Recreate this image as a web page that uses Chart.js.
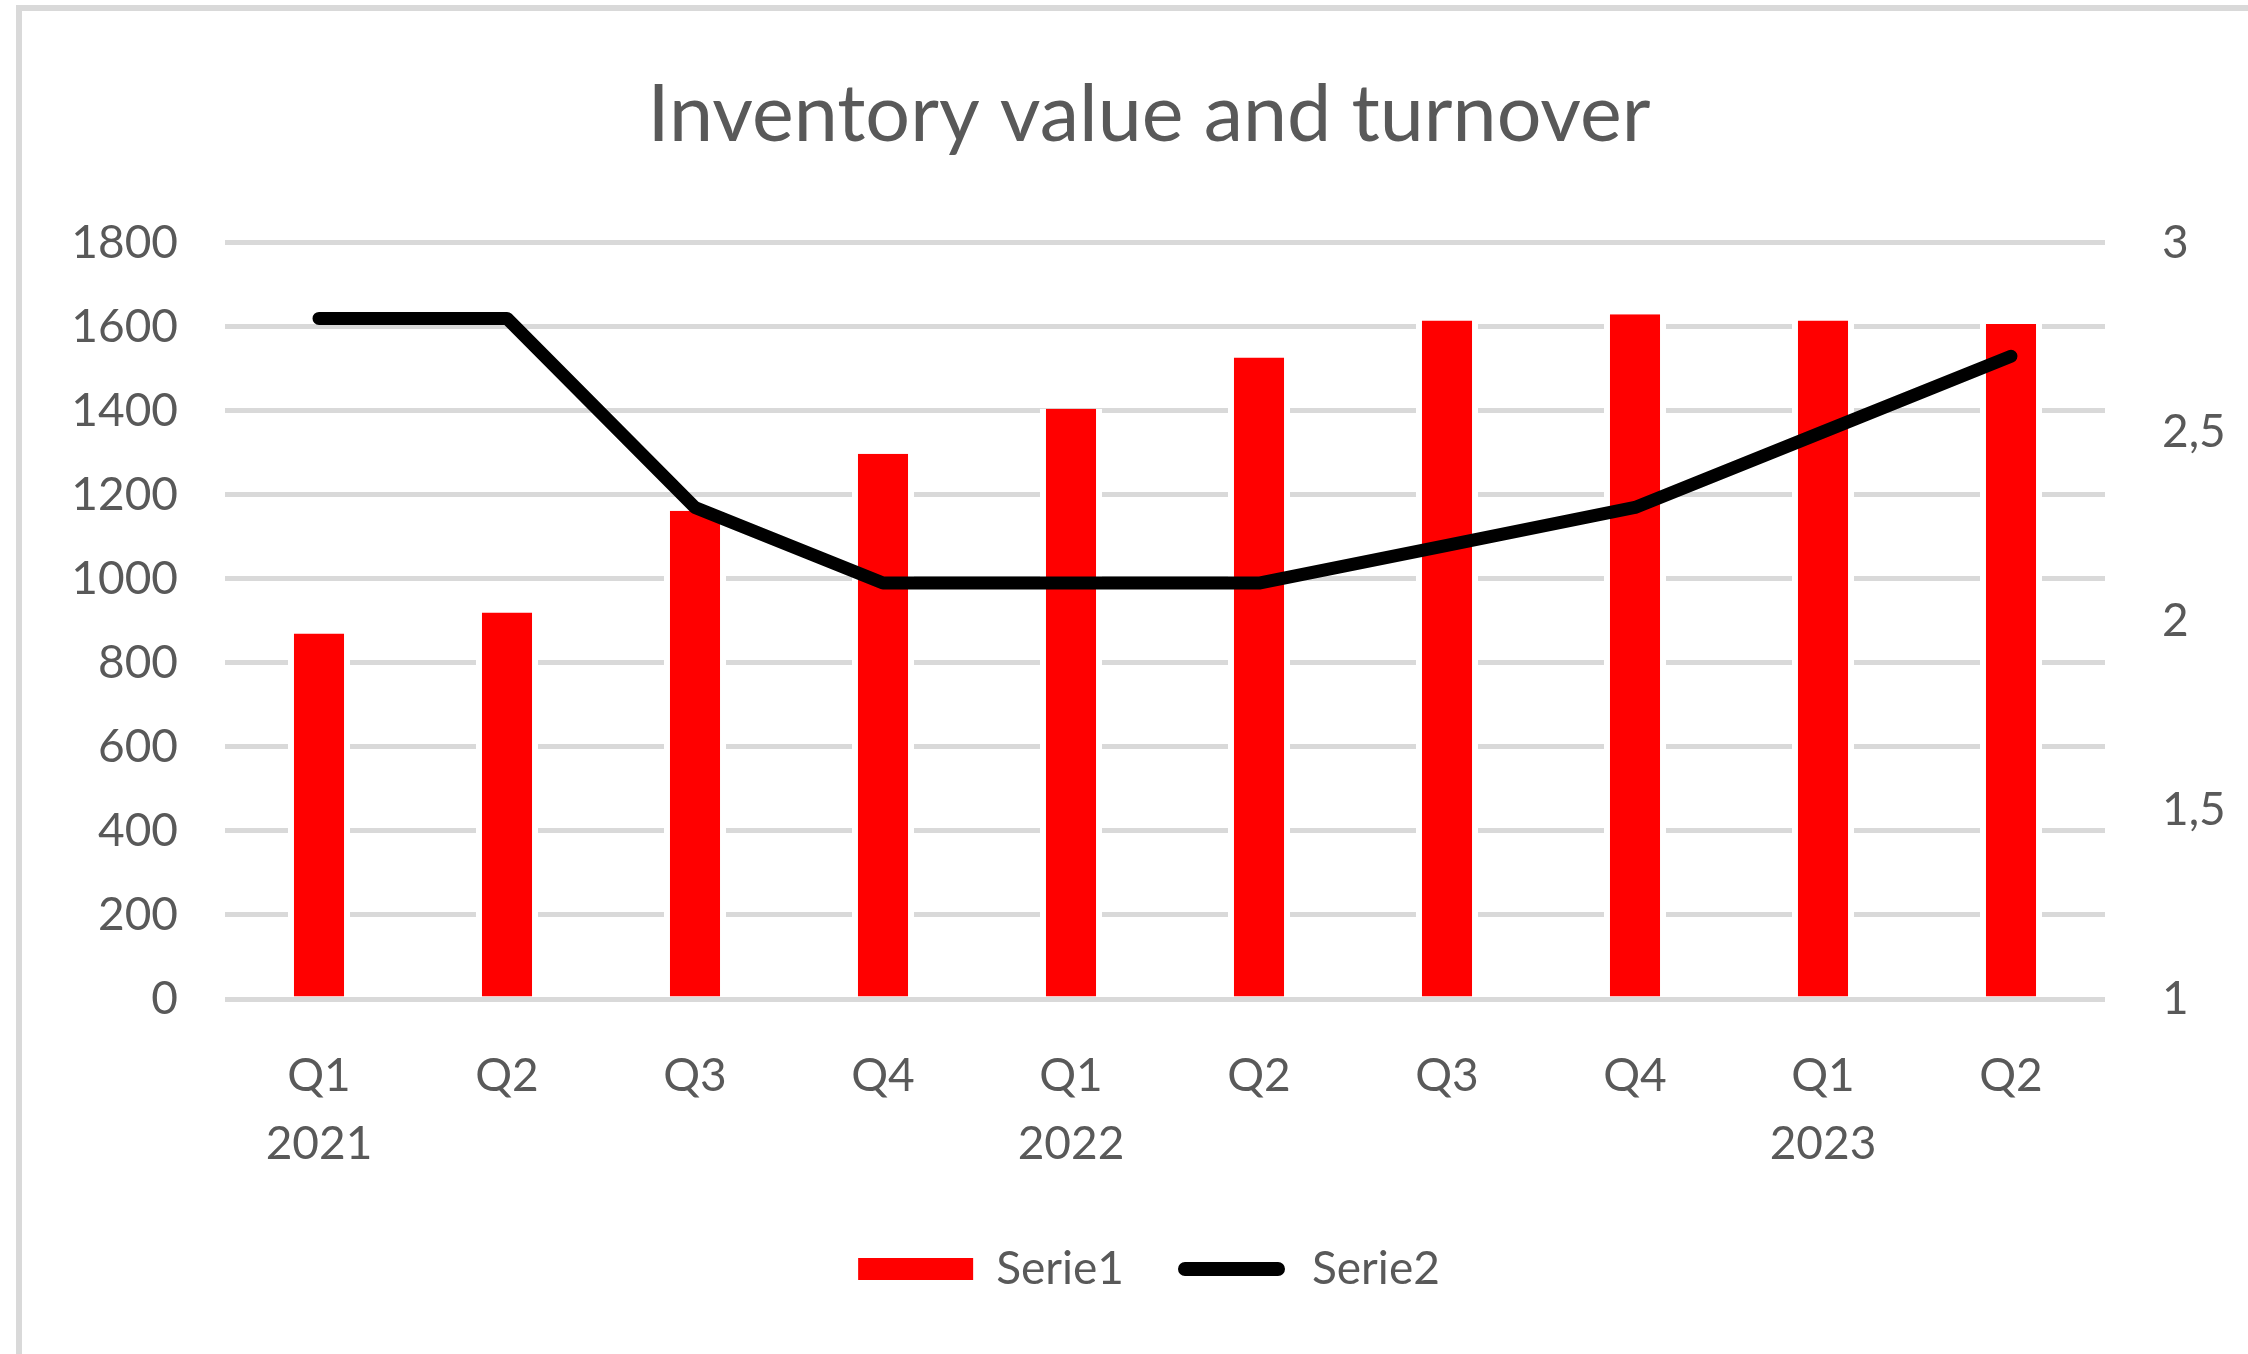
<!DOCTYPE html>
<html>
<head>
<meta charset="utf-8">
<script src="https://cdn.jsdelivr.net/npm/chart.js@4.4.0/dist/chart.umd.min.js"></script>
<style>
  html, body { margin: 0; padding: 0; background: #fff; overflow: hidden; }
  #wrap { position: relative; width: 2248px; height: 1354px; }
  #frame { position: absolute; left: 16px; top: 5px; right: -20px; bottom: -20px;
           border-left: 6px solid #d9d9d9; border-top: 6px solid #d9d9d9; pointer-events: none; }
</style>
</head>
<body>
<div id="wrap">
  <canvas id="myChart" width="2248" height="1354"></canvas>
  <div id="frame"></div>
</div>
<script>
// data
const quarters = ['Q1', 'Q2', 'Q3', 'Q4', 'Q1', 'Q2', 'Q3', 'Q4', 'Q1', 'Q2'];
const years = ['2021', '', '', '', '2022', '', '', '', '2023', ''];
const serie1 = [870, 920, 1162, 1298, 1405, 1527, 1615, 1630, 1615, 1607];
const serie2 = [2.8, 2.8, 2.3, 2.1, 2.1, 2.1, 2.2, 2.3, 2.5, 2.7];
const leftTicks = [0, 1800, 200];
const rightTicks = [1, 3, 0.5];

const textColor = '#595959';
const fontFamily = 'Lato, "Open Sans", sans-serif';

const ctx = document.getElementById('myChart');
new Chart(ctx, {
    type: 'bar',
    data: {
        labels: quarters.map((q, i) => [q, years[i]]),
        datasets: [{
            label: 'Serie1',
            data: serie1,
            backgroundColor: '#ff0000',
            borderColor: '#ffffff',
            borderWidth: {left: 6, right: 6, top: 0, bottom: 0},
            borderSkipped: false,
            categoryPercentage: 1,
            barPercentage: 0.33,
            yAxisID: 'y',
            order: 1
        }, {
            type: 'line',
            label: 'Serie2',
            data: serie2,
            borderColor: '#000000',
            backgroundColor: '#000000',
            borderWidth: 13,
            borderCapStyle: 'round',
            borderJoinStyle: 'round',
            pointRadius: 0,
            tension: 0,
            yAxisID: 'y1',
            order: 0
        }]
    },
    options: {
        responsive: false,
        animation: false,
        layout: {
            padding: {left: 60, right: 10, top: 20, bottom: 52}
        },
        plugins: {
            tooltip: {enabled: false},
            title: {
                display: true,
                text: 'Inventory value and turnover',
                color: textColor,
                font: {size: 79, family: fontFamily, weight: 'normal', lineHeight: 1.2},
                padding: {top: 48, bottom: 80}
            },
            legend: {
                position: 'bottom',
                labels: {
                    color: textColor,
                    font: {size: 46, family: fontFamily},
                    boxWidth: 115,
                    boxHeight: 22,
                    padding: 50,
                    useBorderRadius: true,
                    sort: (a, b) => a.datasetIndex - b.datasetIndex,
                    generateLabels: (chart) => chart.data.datasets.map((ds, i) => ({
                        text: ds.label,
                        datasetIndex: i,
                        fillStyle: i === 0 ? '#ff0000' : '#000000',
                        strokeStyle: '#ffffff',
                        lineWidth: i === 0 ? 0 : 8,
                        borderRadius: i === 0 ? 0 : 11,
                        fontColor: textColor,
                        hidden: false
                    }))
                }
            }
        },
        scales: {
            x: {
                grid: {display: false},
                border: {display: false},
                ticks: {
                    color: textColor,
                    font: {size: 46, family: fontFamily, lineHeight: 1.48},
                    padding: 35,
                    maxRotation: 0,
                    autoSkip: false
                },
                afterFit: (scale) => { scale.height = 197; }
            },
            y: {
                position: 'left',
                min: leftTicks[0],
                max: leftTicks[1],
                ticks: {
                    stepSize: leftTicks[2],
                    color: textColor,
                    font: {size: 46, family: fontFamily},
                    padding: 47,
                    callback: (v) => String(v)
                },
                grid: {color: '#d9d9d9', lineWidth: 5, drawTicks: false},
                border: {display: false},
                afterFit: (scale) => { scale.width = 225 - 60; }
            },
            y1: {
                position: 'right',
                min: rightTicks[0],
                max: rightTicks[1],
                ticks: {
                    stepSize: rightTicks[2],
                    color: textColor,
                    font: {size: 46, family: fontFamily},
                    padding: 57,
                    callback: (v) => String(v).replace('.', ',')
                },
                grid: {display: false, drawTicks: false},
                border: {display: false},
                afterFit: (scale) => { scale.width = 2248 - 10 - 2105; }
            }
        }
    }
});
</script>
</body>
</html>
